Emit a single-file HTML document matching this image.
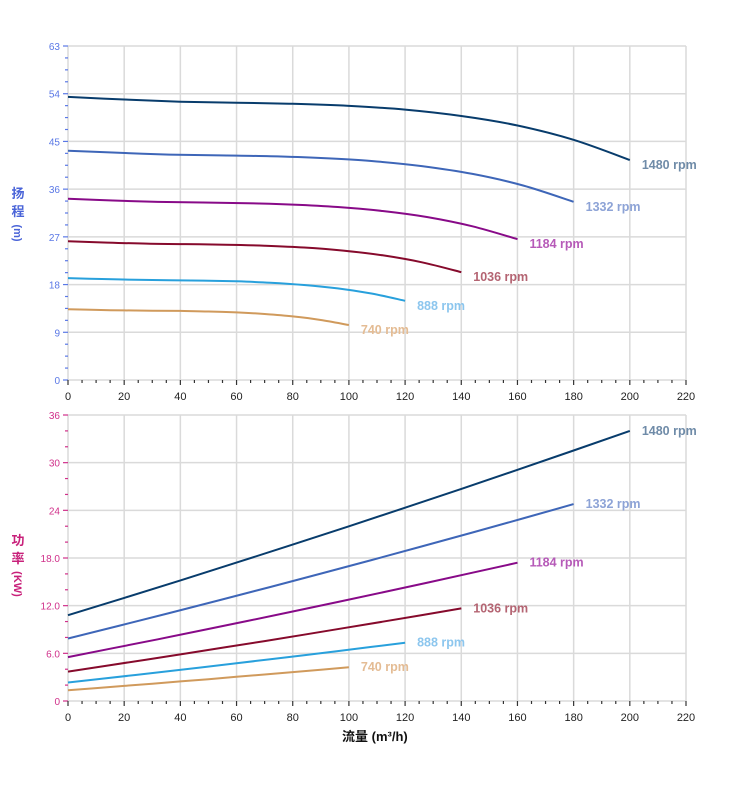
<!DOCTYPE html>
<html><head><meta charset="utf-8"><style>
body{margin:0;background:#fff;}
svg{display:block;font-family:"Liberation Sans","Noto Sans CJK SC",sans-serif;}
</style></head><body>
<svg id="s" width="752" height="797" xmlns="http://www.w3.org/2000/svg"></svg>
<script>
var s=document.getElementById('s'),h='';
var X0=68,XS=(686-68)/220;
function px(q){return X0+q*XS;}
function cr(P){var d='M'+P[0][0].toFixed(1)+','+P[0][1].toFixed(1);
  for(var i=0;i<P.length-1;i++){var p0=P[i-1]||P[i],p1=P[i],p2=P[i+1],p3=P[i+2]||p2;
   var c1=[p1[0]+(p2[0]-p0[0])/6,p1[1]+(p2[1]-p0[1])/6],c2=[p2[0]-(p3[0]-p1[0])/6,p2[1]-(p3[1]-p1[1])/6];
   d+=' C'+c1[0].toFixed(1)+','+c1[1].toFixed(1)+' '+c2[0].toFixed(1)+','+c2[1].toFixed(1)+' '+p2[0].toFixed(1)+','+p2[1].toFixed(1);}
  return d;}
var P=[{top:46,bot:380,max:63,maj:9,min:2.25,col:'#5a78e6',fmt:function(v){return ''+v;}},
       {top:415,bot:701,max:36,maj:6,min:2,col:'#d0308a',fmt:function(v){return (v==12||v==18||v==6)?v.toFixed(1):''+v;}}];
P.forEach(function(p){
  var ys=(p.bot-p.top)/p.max;
  function py(v){return p.bot-v*ys;}
  p.py=py;
  for(var q=20;q<=220;q+=20)h+='<line x1="'+px(q)+'" y1="'+p.top+'" x2="'+px(q)+'" y2="'+p.bot+'" stroke="#dadada" stroke-width="1.5"/>';
  for(var v=p.maj;v<=p.max;v+=p.maj)h+='<line x1="'+X0+'" y1="'+py(v)+'" x2="686" y2="'+py(v)+'" stroke="#dadada" stroke-width="1.5"/>';
  h+='<line x1="'+X0+'" y1="'+p.bot+'" x2="686" y2="'+p.bot+'" stroke="#dadada" stroke-width="1.5"/>';
  h+='<line x1="'+X0+'" y1="'+p.top+'" x2="'+X0+'" y2="'+p.bot+'" stroke="#dadada" stroke-width="1.5"/>';
  for(var v=0;v<=p.max+0.01;v+=p.min){var maj=Math.abs(v/p.maj-Math.round(v/p.maj))<0.01;
    h+='<line x1="'+(maj?X0-5:X0-3)+'" y1="'+py(v)+'" x2="'+X0+'" y2="'+py(v)+'" stroke="'+p.col+'" stroke-width="1.2"/>';
    if(maj)h+='<text x="'+(X0-8)+'" y="'+(py(v)+4)+'" font-size="10" fill="'+p.col+'" text-anchor="end">'+p.fmt(Math.round(v))+'</text>';}
  for(var q=0;q<=220;q+=5){var maj=q%20==0;
    h+='<line x1="'+px(q)+'" y1="'+p.bot+'" x2="'+px(q)+'" y2="'+(p.bot+(maj?5:3))+'" stroke="#333" stroke-width="1.2"/>';
    if(maj)h+='<text x="'+px(q)+'" y="'+(p.bot+20)+'" font-size="11" fill="#222" text-anchor="middle">'+q+'</text>';}
});
var H=[[0,53.4],[20,52.9],[40,52.5],[60,52.3],[80,52.1],[100,51.7],[120,51.0],[140,49.8],[160,48.0],[180,45.3],[200,41.5]];
var S=[[1480,'#083c6c','#6f8ba8'],[1332,'#3e66b8','#8da3d6'],[1184,'#880a88','#b65ab8'],[1036,'#860a2c','#b46472'],[888,'#28a0dc','#8cc6ee'],[740,'#d09a5c','#e4bc94']];
S.forEach(function(sr){
  var r=sr[0]/1480,pts=[],p0=P[0];
  H.forEach(function(d){pts.push([px(d[0]*r),p0.py(d[1]*r*r)]);});
  h+='<path d="'+cr(pts)+'" fill="none" stroke="'+sr[1]+'" stroke-width="2"/>';
  var ex=px(200*r),ey=p0.py(41.5*r*r);
  h+='<text x="'+(ex+12)+'" y="'+(ey+9)+'" font-size="12.5" font-weight="bold" fill="'+sr[2]+'">'+sr[0]+' rpm</text>';
  var p1=P[1],a=10.8*r*r*r,b=34*r*r*r,pp=[];
  for(var i=0;i<=10;i++){var t=i/10;var v=a+(b-a)*(0.93*t+0.07*t*t);pp.push(px(200*r*t).toFixed(1)+','+p1.py(v).toFixed(1));}
  h+='<polyline points="'+pp.join(' ')+'" fill="none" stroke="'+sr[1]+'" stroke-width="2"/>';
  h+='<text x="'+(px(200*r)+12)+'" y="'+(p1.py(b)+4)+'" font-size="12.5" font-weight="bold" fill="'+sr[2]+'">'+sr[0]+' rpm</text>';
});
h+='<text x="18" y="198" font-size="13" font-weight="bold" fill="#4a64d8" text-anchor="middle">扬</text>';
h+='<text x="18" y="216" font-size="13" font-weight="bold" fill="#4a64d8" text-anchor="middle">程</text>';
h+='<text transform="translate(14,233) rotate(90)" font-size="11" font-weight="bold" fill="#4a64d8" text-anchor="middle">(m)</text>';
h+='<text x="18" y="545" font-size="13" font-weight="bold" fill="#c8207a" text-anchor="middle">功</text>';
h+='<text x="18" y="563" font-size="13" font-weight="bold" fill="#c8207a" text-anchor="middle">率</text>';
h+='<text transform="translate(14,584) rotate(90)" font-size="11" font-weight="bold" fill="#c8207a" text-anchor="middle">(KW)</text>';
h+='<text x="342" y="741" font-size="13" font-weight="bold" fill="#111">流量 (m³/h)</text>';
s.innerHTML=h;
</script>
</body></html>
